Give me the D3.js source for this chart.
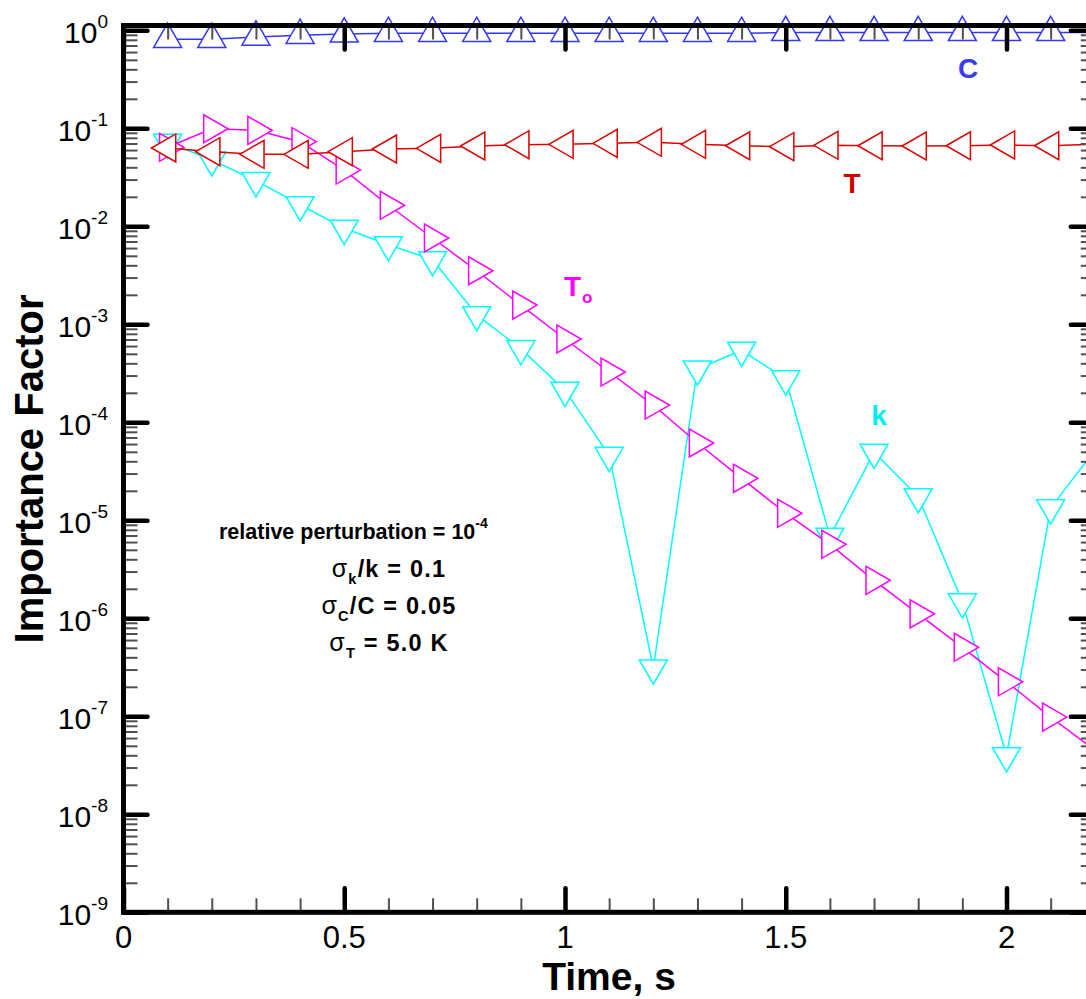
<!DOCTYPE html>
<html>
<head>
<meta charset="utf-8">
<script src="https://cdn.jsdelivr.net/npm/d3@7"></script>
<style>
  body { margin: 0; background: #fff; }
  svg { display: block; }
  text { font-family: "Liberation Sans", Arial, Helvetica, sans-serif; }
</style>
</head>
<body>
<svg id="chart" width="1086" height="999"></svg>
<script>
// ---------------- data ----------------
const times = [0.1, 0.2, 0.3, 0.4, 0.5, 0.6, 0.7, 0.8, 0.9, 1.0, 1.1,
               1.2, 1.3, 1.4, 1.5, 1.6, 1.7, 1.8, 1.9, 2.0, 2.1, 2.2];
const valuesC = [0.81, 0.81, 0.854, 0.889, 0.917, 0.932, 0.932, 0.932, 0.932, 0.932, 0.932,
                 0.932, 0.932, 0.932, 0.95, 0.95, 0.95, 0.95, 0.95, 0.95, 0.95, 0.95];
const valuesT = [0.0630, 0.0577, 0.0543, 0.0543, 0.0577, 0.0615, 0.0625, 0.0660, 0.0680, 0.0687, 0.0703,
                 0.0720, 0.0687, 0.0664, 0.0649, 0.0671, 0.0664, 0.0660, 0.0664, 0.0676, 0.0664, 0.0687];
const valuesTo = [0.064, 0.099, 0.0954, 0.073, 0.0375, 0.0164, 0.0076, 0.00352, 0.00157, 7.08e-4, 3.26e-4,
                  1.50e-4, 6.15e-5, 2.68e-5, 1.18e-5, 5.69e-6, 2.44e-6, 1.11e-6, 5.06e-7, 2.25e-7, 9.8e-8, 4.5e-8];
const valuesK = [0.072, 0.0475, 0.0292, 0.0166, 0.00954, 0.00649, 0.00456, 0.00125, 5.64e-4, 2.12e-4, 4.6e-5,
                 3.11e-7, 3.5e-4, 5.43e-4, 2.77e-4, 6.87e-6, 4.94e-5, 1.74e-5, 1.47e-6, 3.96e-8, 1.34e-5, 5.2e-5];

const xTickValues = [0, 0.5, 1, 1.5, 2];
const xTickLabels = ["0", "0.5", "1", "1.5", "2"];
const yTickExponents = [0, -1, -2, -3, -4, -5, -6, -7, -8, -9];
const xDomain = [0, 2.2];
const yDomain = [1e-9, 1.12];

// ---------------- layout ----------------
const svg = d3.select("#chart");
const pLeft = 123.5, pRight = 1094.8, pTop = 25.5, pBottom = 912.3;

const x = d3.scaleLinear().domain(xDomain).range([pLeft, pRight]);
const y = d3.scaleLog().domain(yDomain).range([pBottom, pTop]);

// minor tick positions
const xMinor = [];
for (let i = 1; i <= 22; i++) { if (i % 5 !== 0) xMinor.push(i / 10); }
const yMinor = [];
for (let e = -9; e <= 0; e++) {
  for (let m = 2; m <= 9; m++) {
    const v = m * Math.pow(10, e);
    if (v <= yDomain[1]) yMinor.push(v);
  }
}
const yMajor = yTickExponents.map(e => Math.pow(10, e));

// ---------------- series ----------------
const series = [
  { name: "k",  values: valuesK,  color: "#00ffff", rot: 180 },
  { name: "To", values: valuesTo, color: "#ff00ff", rot: 90 },
  { name: "T",  values: valuesT,  color: "#dd0000", rot: -90 },
  { name: "C",  values: valuesC,  color: "#3535f5", rot: 0 }
];

const line = d3.line().x(d => x(d[0])).y(d => y(d[1]));
const sym = d3.symbol().type(d3.symbolTriangle).size(340);

const gData = svg.append("g");
series.forEach(s => {
  const pts = times.map((t, i) => [t, s.values[i]]);
  const g = gData.append("g");
  g.append("path")
    .attr("d", line(pts))
    .attr("fill", "none")
    .attr("stroke", s.color)
    .attr("stroke-width", 1.5)
    .attr("stroke-linejoin", "round");
  g.selectAll("path.m")
    .data(pts.filter(p => p[0] < xDomain[1] - 1e-9))
    .join("path")
    .attr("class", "m")
    .attr("d", sym)
    .attr("transform", d => `translate(${x(d[0])},${y(d[1])}) rotate(${s.rot})`)
    .attr("fill", "#fff")
    .attr("stroke", s.color)
    .attr("stroke-width", 1.5);
});

// ---------------- axes ----------------
function styleTicks(g, width, color, cap) {
  g.select(".domain").remove();
  g.selectAll("text").remove();
  g.selectAll("line").attr("stroke", color).attr("stroke-width", width).attr("stroke-linecap", cap);
}
const gAx = svg.append("g");
const minorColor = "#505050";

// bottom
gAx.append("g").attr("transform", `translate(0,${pBottom})`)
  .call(d3.axisBottom(x).tickValues(xMinor).tickSize(-14).tickFormat(""))
  .call(g => styleTicks(g, 2, minorColor, "butt"));
gAx.append("g").attr("transform", `translate(0,${pBottom})`)
  .call(d3.axisBottom(x).tickValues(xTickValues).tickSize(-24).tickFormat(""))
  .call(g => styleTicks(g, 4.5, "#000", "round"));
// top
gAx.append("g").attr("transform", `translate(0,${pTop})`)
  .call(d3.axisTop(x).tickValues(xMinor).tickSize(-14).tickFormat(""))
  .call(g => styleTicks(g, 2, minorColor, "butt"));
gAx.append("g").attr("transform", `translate(0,${pTop})`)
  .call(d3.axisTop(x).tickValues(xTickValues).tickSize(-24).tickFormat(""))
  .call(g => styleTicks(g, 4.5, "#000", "round"));
// left
gAx.append("g").attr("transform", `translate(${pLeft},0)`)
  .call(d3.axisLeft(y).tickValues(yMinor).tickSize(-14).tickFormat(""))
  .call(g => styleTicks(g, 2, minorColor, "butt"));
gAx.append("g").attr("transform", `translate(${pLeft},0)`)
  .call(d3.axisLeft(y).tickValues(yMajor).tickSize(-24).tickFormat(""))
  .call(g => styleTicks(g, 4.5, "#000", "round"));
// right
gAx.append("g").attr("transform", `translate(${pRight},0)`)
  .call(d3.axisRight(y).tickValues(yMinor).tickSize(-14).tickFormat(""))
  .call(g => styleTicks(g, 2, minorColor, "butt"));
gAx.append("g").attr("transform", `translate(${pRight},0)`)
  .call(d3.axisRight(y).tickValues(yMajor).tickSize(-24).tickFormat(""))
  .call(g => styleTicks(g, 4.5, "#000", "round"));

// frame
gAx.append("rect")
  .attr("x", pLeft).attr("y", pTop)
  .attr("width", pRight - pLeft).attr("height", pBottom - pTop)
  .attr("fill", "none").attr("stroke", "#000").attr("stroke-width", 5);

// x tick labels
svg.append("g").selectAll("text")
  .data(xTickValues)
  .join("text")
  .attr("x", d => x(d))
  .attr("y", 947.7)
  .attr("text-anchor", "middle")
  .attr("font-size", 31)
  .attr("fill", "#000")
  .text((d, i) => xTickLabels[i]);

// y tick labels (10^e)
const yl = svg.append("g").selectAll("text")
  .data(yTickExponents)
  .join("text")
  .attr("x", 108)
  .attr("y", d => y(Math.pow(10, d)) + 13)
  .attr("text-anchor", "end")
  .attr("fill", "#000");
yl.append("tspan").attr("font-size", 30).text("10");
yl.append("tspan").attr("font-size", 19).attr("dy", -15).text(d => String(d));

// axis titles
svg.append("text")
  .attr("x", 609).attr("y", 990)
  .attr("text-anchor", "middle")
  .attr("font-size", 39).attr("font-weight", "bold")
  .text("Time, s");
svg.append("text")
  .attr("transform", "translate(43,469) rotate(-90)")
  .attr("text-anchor", "middle")
  .attr("font-size", 40).attr("font-weight", "bold")
  .text("Importance Factor");

// series labels
svg.append("text").attr("x", 968).attr("y", 78).attr("text-anchor", "middle")
  .attr("font-size", 28).attr("font-weight", "bold").attr("fill", "#3a3aee").text("C");
svg.append("text").attr("x", 852).attr("y", 193).attr("text-anchor", "middle")
  .attr("font-size", 28).attr("font-weight", "bold").attr("fill", "#cc0000").text("T");
const toLab = svg.append("text").attr("x", 564).attr("y", 296)
  .attr("font-weight", "bold").attr("fill", "#ff00ff");
toLab.append("tspan").attr("font-size", 28).text("T");
toLab.append("tspan").attr("font-size", 17).attr("dx", 1).attr("dy", 7).text("o");
svg.append("text").attr("x", 879).attr("y", 425).attr("text-anchor", "middle")
  .attr("font-size", 28).attr("font-weight", "bold").attr("fill", "#00eeee").text("k");

// annotation block
const ann = svg.append("g").attr("font-weight", "bold").attr("fill", "#000");
const r1 = ann.append("text").attr("x", 219).attr("y", 539).attr("font-size", 21.5);
r1.append("tspan").text("relative perturbation = 10");
r1.append("tspan").attr("font-size", 14).attr("dy", -11).text("-4");

function sigmaRow(yPos, sub, rest) {
  const t = ann.append("text").attr("x", 389).attr("y", yPos)
    .attr("text-anchor", "middle").attr("font-size", 23.5)
    .attr("letter-spacing", 1.2);
  t.append("tspan").attr("font-weight", "normal").attr("font-size", 25).text("σ");
  t.append("tspan").attr("font-size", 14.5).attr("dy", 7).text(sub);
  t.append("tspan").attr("dy", -7).text(rest);
}
sigmaRow(577, "k", "/k = 0.1");
sigmaRow(614, "C", "/C = 0.05");
sigmaRow(651, "T", " = 5.0 K");
</script>
</body>
</html>
